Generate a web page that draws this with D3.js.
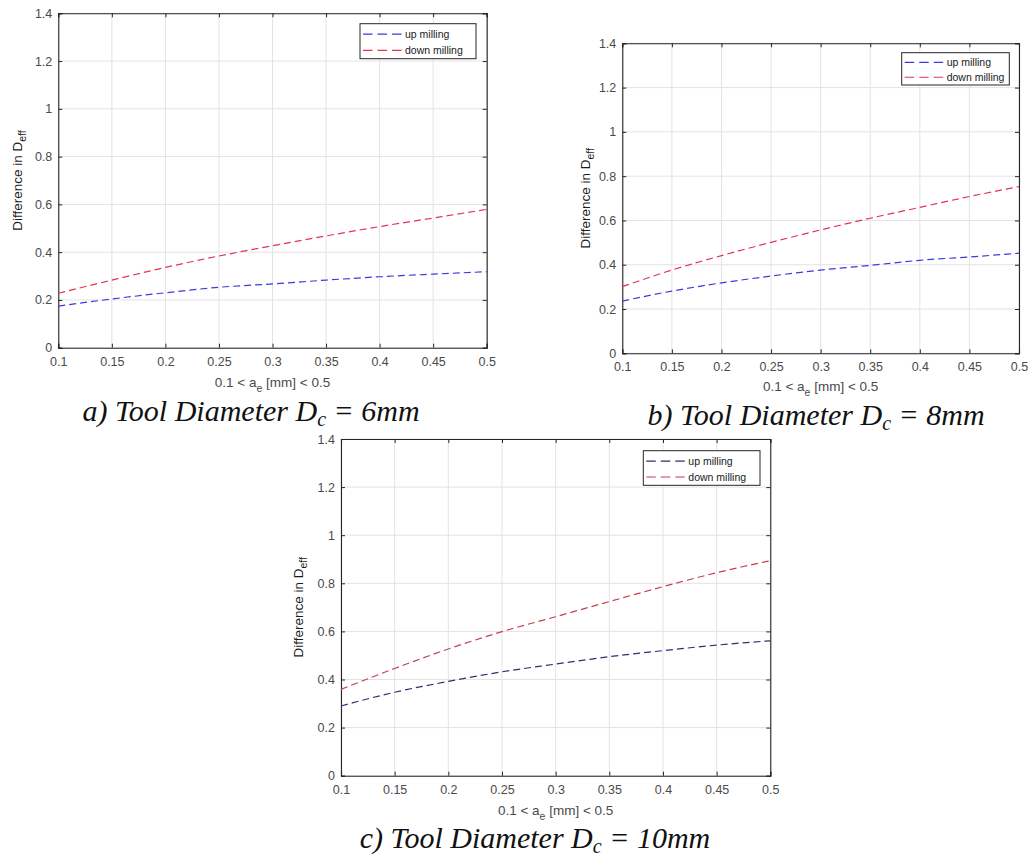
<!DOCTYPE html>
<html>
<head>
<meta charset="utf-8">
<script src="https://cdn.jsdelivr.net/npm/d3@7"></script>
<style>
  html, body { margin: 0; padding: 0; background: #fff; }
  svg { display: block; }
</style>
</head>
<body>
<svg id="chart" width="1030" height="859"></svg>
<script>
// Radial depth of cut a_e [mm]
const aeValues = [0.1, 0.15, 0.2, 0.25, 0.3, 0.35, 0.4, 0.45, 0.5];

// Difference in effective diameter, D_c = 6 mm
const upMilling6   = [0.174, 0.204, 0.230, 0.253, 0.267, 0.283, 0.297, 0.308, 0.318];
const downMilling6 = [0.228, 0.283, 0.336, 0.384, 0.427, 0.468, 0.507, 0.543, 0.579];

// D_c = 8 mm
const upMilling8   = [0.236, 0.281, 0.318, 0.349, 0.376, 0.397, 0.420, 0.435, 0.452];
const downMilling8 = [0.301, 0.376, 0.441, 0.501, 0.557, 0.610, 0.659, 0.708, 0.753];

// D_c = 10 mm
const upMilling10   = [0.290, 0.347, 0.392, 0.432, 0.464, 0.495, 0.520, 0.543, 0.561];
const downMilling10 = [0.359, 0.446, 0.527, 0.599, 0.661, 0.724, 0.786, 0.844, 0.894];

const seriesNames = ["up milling", "down milling"];
const xTicks = [0.1, 0.15, 0.2, 0.25, 0.3, 0.35, 0.4, 0.45, 0.5];
const yTicks = [0, 0.2, 0.4, 0.6, 0.8, 1, 1.2, 1.4];
const captionLetters = ["a)", "b)", "c)"];
const diameters = ["6mm", "8mm", "10mm"];

const panels = [
  { box: [58.3, 13.3, 486.7, 347.7], legend: [360, 23.7, 116, 35], ylabX: 17, xlabY: 382,
    caption: [251, 421], up: upMilling6, down: downMilling6, colors: ["#3b3bdc", "#e33453"] },
  { box: [622.3, 43.3, 1019, 353.3], legend: [901.7, 52.7, 107.6, 32.3], ylabX: 585, xlabY: 386,
    caption: [816, 425], up: upMilling8, down: downMilling8, colors: ["#3b3bdc", "#e33453"] },
  { box: [341, 439, 770.3, 775.7], legend: [643.3, 450.7, 116.7, 34.6], ylabX: 298, xlabY: 810,
    caption: [535, 848], up: upMilling10, down: downMilling10, colors: ["#2e2e78", "#c2404f"] }
];

const svg = d3.select("#chart");
const sansFont = "Liberation Sans, Arial, sans-serif";
const axisColor = "#262626";
const textColor = "#4a4a4a";

panels.forEach((p, i) => {
  const [x0, y0, x1, y1] = p.box;
  const x = d3.scaleLinear().domain([0.1, 0.5]).range([x0, x1]);
  const y = d3.scaleLinear().domain([0, 1.4]).range([y1, y0]);
  const g = svg.append("g");

  // grid
  g.append("g").selectAll("line").data(xTicks).join("line")
    .attr("x1", d => x(d)).attr("x2", d => x(d)).attr("y1", y0).attr("y2", y1)
    .attr("stroke", "#e3e3e3").attr("stroke-width", 1);
  g.append("g").selectAll("line").data(yTicks).join("line")
    .attr("y1", d => y(d)).attr("y2", d => y(d)).attr("x1", x0).attr("x2", x1)
    .attr("stroke", "#e3e3e3").attr("stroke-width", 1);

  // axes with inward ticks on all four sides
  const tl = 4;
  const bottom = g.append("g").attr("transform", `translate(0,${y1})`)
    .call(d3.axisBottom(x).tickValues(xTicks).tickSize(-tl).tickPadding(9).tickFormat(d3.format("")));
  const top = g.append("g").attr("transform", `translate(0,${y0})`)
    .call(d3.axisTop(x).tickValues(xTicks).tickSize(-tl).tickFormat(""));
  const left = g.append("g").attr("transform", `translate(${x0},0)`)
    .call(d3.axisLeft(y).tickValues(yTicks).tickSize(-tl).tickPadding(6).tickFormat(d3.format("")));
  const right = g.append("g").attr("transform", `translate(${x1},0)`)
    .call(d3.axisRight(y).tickValues(yTicks).tickSize(-tl).tickFormat(""));
  [bottom, top, left, right].forEach(a => {
    a.select(".domain").attr("stroke", axisColor).attr("stroke-width", 1.1);
    a.selectAll(".tick line").attr("stroke", axisColor);
    a.selectAll(".tick text").attr("fill", textColor)
      .style("font-family", sansFont).style("font-size", "12.5px");
  });

  // series lines
  const line = d3.line().x(d => x(d[0])).y(d => y(d[1])).curve(d3.curveMonotoneX);
  [p.up, p.down].forEach((vals, k) => {
    g.append("path")
      .datum(aeValues.map((a, j) => [a, vals[j]]))
      .attr("d", line)
      .attr("fill", "none")
      .attr("stroke", p.colors[k])
      .attr("stroke-width", 1.2)
      .attr("stroke-dasharray", "7,4");
  });

  // legend
  const [lx, ly, lw, lh] = p.legend;
  const lg = g.append("g");
  lg.append("rect").attr("x", lx).attr("y", ly).attr("width", lw).attr("height", lh)
    .attr("fill", "#fff").attr("stroke", axisColor).attr("stroke-width", 1);
  seriesNames.forEach((name, k) => {
    const ry = ly + lh * (k === 0 ? 0.3 : 0.76);
    lg.append("line").attr("x1", lx + 3).attr("x2", lx + 44).attr("y1", ry).attr("y2", ry)
      .attr("stroke", p.colors[k]).attr("stroke-width", 1.2).attr("stroke-dasharray", "9.5,5");
    lg.append("text").attr("x", lx + 45).attr("y", ry).attr("dy", "0.35em")
      .attr("fill", "#1a1a1a").style("font-family", sansFont).style("font-size", "10.5px")
      .text(name);
  });

  // y label
  const yl = g.append("text")
    .attr("transform", `translate(${p.ylabX},${(y0 + y1) / 2}) rotate(-90)`)
    .attr("text-anchor", "middle").attr("dy", "0.35em")
    .attr("fill", "#1a1a1a").style("font-family", sansFont).style("font-size", "13.5px");
  yl.append("tspan").text("Difference in D");
  yl.append("tspan").attr("dy", 4).style("font-size", "10.5px").text("eff");

  // x label
  const xl = g.append("text")
    .attr("x", (x0 + x1) / 2).attr("y", p.xlabY).attr("text-anchor", "middle").attr("dy", "0.35em")
    .attr("fill", textColor).style("font-family", sansFont).style("font-size", "13.5px");
  xl.append("tspan").text("0.1 < a");
  xl.append("tspan").attr("dy", 5).style("font-size", "10.5px").text("e");
  xl.append("tspan").attr("dy", -5).text(" [mm] < 0.5");

  // caption
  const cap = g.append("text")
    .attr("x", p.caption[0]).attr("y", p.caption[1]).attr("text-anchor", "middle")
    .attr("fill", "#111").style("font-family", "Liberation Serif, Times New Roman, serif")
    .style("font-style", "italic").style("font-size", "30px");
  cap.append("tspan").text(`${captionLetters[i]} Tool Diameter D`);
  cap.append("tspan").attr("dy", 5).style("font-size", "20px").text("c");
  cap.append("tspan").attr("dy", -5).text(` = ${diameters[i]}`);
});
</script>
</body>
</html>
